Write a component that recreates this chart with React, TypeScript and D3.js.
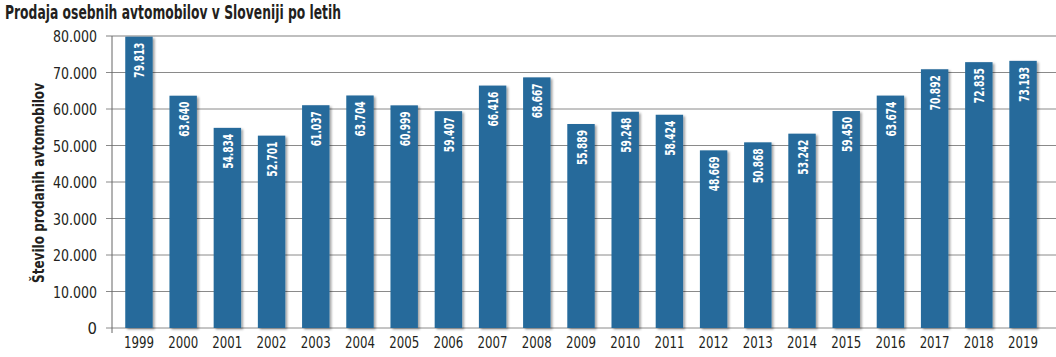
import React from "react";
import * as d3 from "d3";

const years = ["1999","2000","2001","2002","2003","2004","2005","2006","2007","2008","2009","2010","2011","2012","2013","2014","2015","2016","2017","2018","2019"];
const sales = [79813,63640,54834,52701,61037,63704,60999,59407,66416,68667,55889,59248,58424,48669,50868,53242,59450,63674,70892,72835,73193];
const yTicks = [0,10000,20000,30000,40000,50000,60000,70000,80000];

const W = 1056, H = 357;
const fmt = (v: number) => {
  if (v === 0) return "0";
  const s = String(v);
  return s.slice(0, s.length - 3) + "." + s.slice(s.length - 3);
};
const FONT = "'DejaVu Sans Condensed', 'DejaVu Sans', sans-serif";

export default function App() {
  const x = d3.scaleBand<string>().domain(years).range([112, 1050]).paddingInner(0.38).paddingOuter(0.3);
  const y = d3.scaleLinear().domain([0, 80000]).range([328, 36]);
  return (
    <svg width={W} height={H} style={{ position: "absolute", left: 0, top: 0, background: "#fff" }}>
      <defs>
        <filter id="sh" x="-20%" y="-10%" width="150%" height="130%">
          <feDropShadow dx="2" dy="1.5" stdDeviation="1.2" floodColor="#000" floodOpacity="0.35" />
        </filter>
      </defs>
      <text x={5} y={19} fontFamily={FONT} fontWeight={700} fontSize={19.5} fill="#231f20" textLength={336} lengthAdjust="spacingAndGlyphs">
        Prodaja osebnih avtomobilov v Sloveniji po letih
      </text>
      {yTicks.map((t) => (
        <g key={t}>
          <line x1={106} x2={W} y1={y(t)} y2={y(t)} stroke={t === 80000 ? "#aaa" : "#8a8a8a"} strokeWidth={t === 80000 ? 1.6 : 1} />
          <text x={97} y={y(t) + 6} textAnchor="end" fontFamily={FONT} fontSize={16.5} fill="#231f20"
            textLength={t === 0 ? undefined : 44} lengthAdjust="spacingAndGlyphs">{fmt(t)}</text>
        </g>
      ))}
      <line x1={112} x2={112} y1={36} y2={333} stroke="#666" strokeWidth={1} />
      <text transform={`translate(44,183) rotate(-90)`} textAnchor="middle" fontFamily={FONT} fontWeight={700} fontSize={16} fill="#231f20"
        textLength={200} lengthAdjust="spacingAndGlyphs">
        Število prodanih avtomobilov
      </text>
      {years.map((yr, i) => {
        const bx = x(yr)!;
        const bw = x.bandwidth();
        const top = y(sales[i]);
        return (
          <g key={yr}>
            <rect x={bx} y={top} width={bw} height={y(0) - top} fill="#256a9b" filter="url(#sh)" />
            <text transform={`translate(${bx + bw / 2 + 5.5},${top + 6}) rotate(-90)`} textAnchor="end" fontFamily={FONT} fontWeight={700} fontSize={14.5} fill="#fff"
              textLength={35} lengthAdjust="spacingAndGlyphs">
              {fmt(sales[i])}
            </text>
            <text x={bx + bw / 2} y={348} textAnchor="middle" fontFamily={FONT} fontSize={16.5} fill="#231f20"
              textLength={30} lengthAdjust="spacingAndGlyphs">{yr}</text>
          </g>
        );
      })}
    </svg>
  );
}
